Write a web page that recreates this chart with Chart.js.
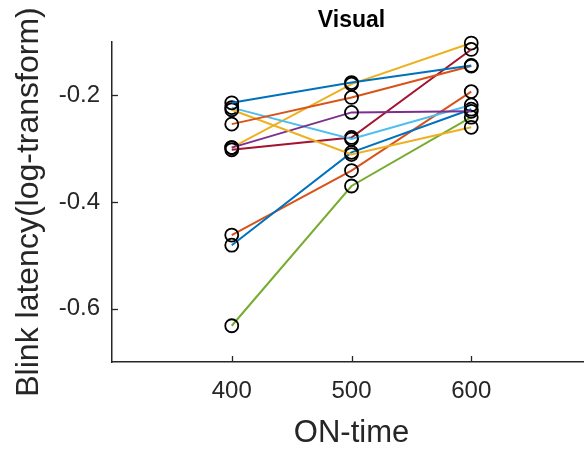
<!DOCTYPE html>
<html>
<head>
<meta charset="utf-8">
<script src="https://cdn.jsdelivr.net/npm/chart.js@4/dist/chart.umd.min.js"></script>
<style>
    html, body { margin: 0; padding: 0; background: #fff; overflow: hidden; }
    #wrap { width: 600px; height: 454px; }
</style>
</head>
<body>
<div id="wrap"><canvas id="chart" width="600" height="454"></canvas></div>
<script>
// x positions and ticks
const onTime = [400, 500, 600];
const xTicks = [400, 500, 600];
const yTicks = [-0.6, -0.4, -0.2];

// one array per subject (ON-time 400, 500, 600)
const subj01 = [-0.214, -0.176, -0.144];
const subj02 = [-0.254, -0.204, -0.145];
const subj03 = [-0.227, -0.311, -0.260];
const subj04 = [-0.298, -0.232, -0.230];
const subj05 = [-0.632, -0.370, -0.241];
const subj06 = [-0.223, -0.282, -0.218];
const subj07 = [-0.302, -0.279, -0.114];
const subj08 = [-0.481, -0.307, -0.226];
const subj09 = [-0.462, -0.341, -0.193];
const subj10 = [-0.298, -0.179, -0.102];

const subjects = [subj01, subj02, subj03, subj04, subj05, subj06, subj07, subj08, subj09, subj10];
const colors = ['#0072BD', '#D95319', '#EDB120', '#7E2F8E', '#77AC30', '#4DBEEE', '#A2142F'];

const axisColor = '#262626';
const fontFamily = 'Arial, "Liberation Sans", Helvetica, sans-serif';

// MATLAB style ticks pointing into the plot
const innerTicks = {
    id: 'innerTicks',
    afterDraw(chart) {
        const ctx = chart.ctx;
        const xs = chart.scales.x;
        const ys = chart.scales.y;
        const area = chart.chartArea;
        ctx.save();
        ctx.strokeStyle = axisColor;
        ctx.lineWidth = 1.3;
        xTicks.forEach(v => {
            const px = Math.round(xs.getPixelForValue(v)) + 0.5;
            ctx.beginPath();
            ctx.moveTo(px, area.bottom);
            ctx.lineTo(px, area.bottom - 6);
            ctx.stroke();
        });
        yTicks.forEach(v => {
            const py = Math.round(ys.getPixelForValue(v)) + 0.5;
            ctx.beginPath();
            ctx.moveTo(area.left, py);
            ctx.lineTo(area.left + 6, py);
            ctx.stroke();
        });
        ctx.restore();
    }
};

const datasets = subjects.map((vals, i) => ({
    label: 'S' + (i + 1),
    data: onTime.map((x, j) => ({ x: x, y: vals[j] })),
    borderColor: colors[i % colors.length],
    borderWidth: 2,
    pointStyle: 'circle',
    pointRadius: 6.5,
    pointBorderColor: '#000',
    pointBorderWidth: 1.8,
    pointBackgroundColor: 'rgba(0,0,0,0)',
    tension: 0,
    clip: false
}));

new Chart(document.getElementById('chart').getContext('2d'), {
    type: 'line',
    data: { datasets: datasets },
    plugins: [innerTicks],
    options: {
        responsive: false,
        animation: false,
        devicePixelRatio: 1,
        layout: { padding: { left: 0, top: 0, right: 9, bottom: 0 } },
        plugins: {
            legend: { display: false },
            tooltip: { enabled: false },
            title: {
                display: true,
                text: 'Visual',
                fullSize: false,
                color: '#000',
                font: { family: fontFamily, size: 23, weight: 'bold' },
                padding: { top: 7, bottom: 7.4 }
            }
        },
        scales: {
            x: {
                type: 'linear',
                min: 300,
                max: 700,
                afterBuildTicks: scale => { scale.ticks = xTicks.map(v => ({ value: v })); },
                afterFit: scale => { scale.height = 92; },
                grid: { display: false, drawTicks: false },
                border: { display: true, color: axisColor, width: 1.5 },
                ticks: {
                    color: axisColor,
                    padding: 15,
                    maxRotation: 0,
                    font: { family: fontFamily, size: 24 },
                    callback: v => String(v)
                },
                title: {
                    display: true,
                    text: 'ON-time',
                    color: axisColor,
                    font: { family: fontFamily, size: 31 },
                    padding: { top: 0, bottom: 2 }
                }
            },
            y: {
                type: 'linear',
                min: -0.7,
                max: -0.1,
                afterBuildTicks: scale => { scale.ticks = yTicks.map(v => ({ value: v })); },
                afterFit: scale => { scale.width = 112; },
                grid: { display: false, drawTicks: false },
                border: { display: true, color: axisColor, width: 1.5 },
                ticks: {
                    color: axisColor,
                    padding: 12,
                    font: { family: fontFamily, size: 24 },
                    callback: v => v.toFixed(1)
                },
                title: {
                    display: true,
                    text: 'Blink latency(log-transform)',
                    color: axisColor,
                    font: { family: fontFamily, size: 32 },
                    padding: { top: 10, bottom: 0 }
                }
            }
        }
    }
});
</script>
</body>
</html>
